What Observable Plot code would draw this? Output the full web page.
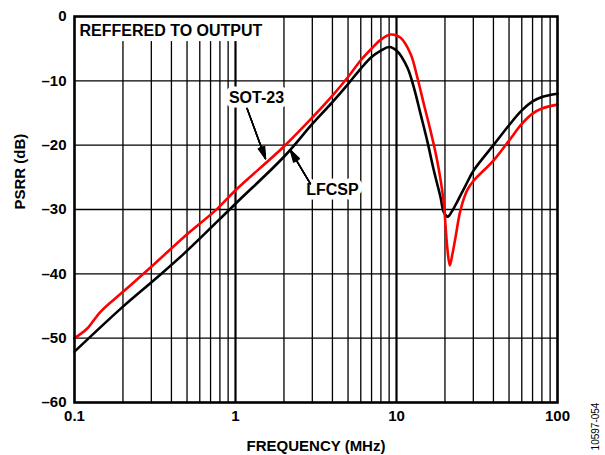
<!DOCTYPE html>
<html><head><meta charset="utf-8">
<script src="https://cdn.jsdelivr.net/npm/d3@7"></script>
<script src="https://cdn.jsdelivr.net/npm/@observablehq/plot@0.6"></script>
<style>body{margin:0;background:#fff}</style>
</head><body><div id="chart"></div>
<script>
// SOT-23 (red)
const sotFreq = [0.1, 0.12, 0.145, 0.2, 0.3, 0.477, 0.769, 1.0, 2.0, 3.0, 4.0, 5.0, 6.0, 7.0, 8.0, 9.2, 10.6, 12.22, 13.45, 14.78, 16.25, 17.89, 19.67, 20.16, 20.65, 21.43, 22.3, 23.26, 24.97, 27.5, 30.2, 40, 50, 60, 70, 80, 100];
const sotDb   = [-50.0, -48.5, -45.9, -42.8, -38.9, -34.3, -29.9, -27.0, -20.2, -15.7, -12.3, -9.4, -6.8, -5.0, -3.6, -2.8, -3.3, -5.8, -9.4, -13.6, -17.7, -22.4, -29.0, -32.5, -35.8, -38.7, -36.8, -34.3, -30.1, -27.0, -25.5, -22.4, -19.3, -16.7, -15.1, -14.3, -13.7];
// LFCSP (black)
const lfcspFreq = [0.1, 0.2, 0.311, 0.477, 1.0, 2.0, 3.0, 4.0, 5.0, 6.0, 7.0, 8.0, 9.0, 10.1, 11.66, 12.81, 14.09, 15.51, 17.05, 18.77, 19.67, 20.83, 21.96, 23.82, 26.7, 30.2, 40, 50, 60, 70, 80, 100];
const lfcspDb   = [-52.1, -45.1, -41.0, -36.9, -29.1, -21.8, -16.7, -13.3, -10.5, -8.1, -6.3, -5.3, -4.75, -5.4, -7.9, -11.0, -15.1, -19.3, -23.9, -28.1, -30.4, -31.1, -30.4, -28.8, -26.4, -23.9, -20.0, -16.9, -14.6, -13.2, -12.5, -12.0];

const xTicks = [0.1, 1, 10, 100];
const xTickLabels = ["0.1", "1", "10", "100"];
const yTicks = [0, -10, -20, -30, -40, -50, -60];
const yTickLabels = ["0", "–10", "–20", "–30", "–40", "–50", "–60"];
const minorGridX = [0.2,0.3,0.4,0.5,0.6,0.7,0.8,0.9,2,3,4,5,6,7,8,9,20,30,40,50,60,70,80,90];
const majorGridX = [1, 10];
const gridY = [-10, -20, -30, -40, -50];

// annotations (data units)
const noteText = ["REFFERED TO OUTPUT", "SOT-23", "LFCSP"];
const noteX = [0.1074, 1.35, 4.0];
const noteY = [-2.2, -12.6, -27.0];
const arrowX1 = [1.18, 2.92];
const arrowY1 = [-14.3, -26.0];
const arrowX2 = [1.536, 2.195];
const arrowY2 = [-22.1, -20.8];

const sot = sotFreq.map((f, i) => ({f, db: sotDb[i]}));
const lfcsp = lfcspFreq.map((f, i) => ({f, db: lfcspDb[i]}));
const arrows = arrowX1.map((x, i) => ({x1: x, y1: arrowY1[i], x2: arrowX2[i], y2: arrowY2[i]}));
const headMarks = [10, 18, 26, 32].map(a => Plot.arrow(arrows, {x1: "x1", y1: "y1", x2: "x2", y2: "y2", stroke: "black", strokeWidth: 1.4, headLength: 13, headAngle: a}));

const chart = Plot.plot({
  width: 605, height: 455,
  marginLeft: 74, marginRight: 48, marginTop: 16, marginBottom: 53,
  x: {type: "log", domain: [0.1, 100]},
  y: {domain: [-60, 0]},
  style: {fontFamily: "'Liberation Sans', Arial, sans-serif", fontWeight: "bold", fontSize: "15px", color: "black", background: "white"},
  marks: [
    Plot.ruleX(minorGridX, {stroke: "black", strokeWidth: 1.3}),
    Plot.ruleX(majorGridX, {stroke: "black", strokeWidth: 2.2}),
    Plot.ruleY(gridY, {stroke: "black", strokeWidth: 1.3}),
    Plot.rect([{x1: 0.1, x2: 1.6, y1: -3.9, y2: 0}], {x1: "x1", x2: "x2", y1: "y1", y2: "y2", fill: "white"}),
    Plot.text([0], {x: noteX[0], y: noteY[0], text: () => noteText[0], textAnchor: "start", fontSize: 16, fontWeight: "bold", fill: "black"}),
    Plot.text([1, 2], {x: i => noteX[i], y: i => noteY[i], text: i => noteText[i], textAnchor: "middle", fontSize: 16, fontWeight: "bold", fill: "black", stroke: "white", strokeWidth: 9}),
    ...headMarks,
    Plot.line(lfcsp, {x: "f", y: "db", stroke: "black", strokeWidth: 2.6, curve: "catmull-rom"}),
    Plot.line(sot, {x: "f", y: "db", stroke: "#ff0000", strokeWidth: 2.6, curve: "catmull-rom"}),
    Plot.frame({stroke: "black", strokeWidth: 2.6}),
    Plot.axisX(xTicks, {tickSize: 0, tickPadding: 8, tickFormat: d => xTickLabels[xTicks.indexOf(d)], fontSize: 15, label: null}),
    Plot.axisY(yTicks, {tickSize: 0, tickPadding: 8, tickFormat: d => yTickLabels[yTicks.indexOf(d)], fontSize: 15, label: null}),
    Plot.text(["FREQUENCY (MHz)"], {frameAnchor: "bottom", dy: 44, text: d => d, fontSize: 15, fontWeight: "bold", lineAnchor: "middle"}),
    Plot.text(["PSRR (dB)"], {frameAnchor: "left", dx: -54, rotate: -90, text: d => d, fontSize: 15, fontWeight: "bold", lineAnchor: "middle"}),
    Plot.text(["10597-054"], {frameAnchor: "bottom-right", dx: 38, dy: 24, rotate: -90, textAnchor: "middle", text: d => d, fontSize: 10, fontWeight: "normal", lineAnchor: "middle"})
  ]
});
document.getElementById("chart").appendChild(chart);
</script>
</body></html>
